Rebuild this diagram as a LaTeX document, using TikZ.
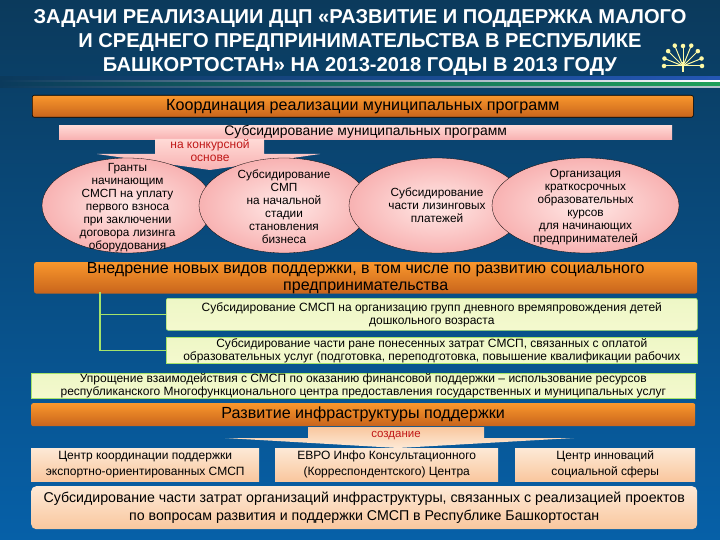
\documentclass[tikz,border=0pt]{standalone}
\usepackage{fontspec}
\setmainfont{Liberation Sans}
\usetikzlibrary{shapes.geometric}
\definecolor{bgtop}{HTML}{0B3A5C}
\definecolor{bgbottom}{HTML}{0660A8}
\definecolor{orangemid}{HTML}{F9972C}
\definecolor{orangedark}{HTML}{C8641C}
\definecolor{pinklight}{HTML}{FFDAD6}
\definecolor{pinkdeep}{HTML}{F8B2B2}
\definecolor{greenbar}{HTML}{A6E36A}
\definecolor{greenpale}{HTML}{F4F9CE}
\definecolor{peachlight}{HTML}{FDE9D6}
\definecolor{peachdeep}{HTML}{F9C79E}
\definecolor{redtext}{HTML}{C01818}
\definecolor{stripeblue}{HTML}{2456B4}
\definecolor{stripegreen}{HTML}{1FA05A}
\tikzset{
	orangebox/.style={rounded corners=2pt,top color=orangemid,bottom color=orangedark,align=center,inner sep=0pt,anchor=north west},
	pinkbar/.style={top color=pinklight,bottom color=pinkdeep,align=center,inner sep=0pt,anchor=north west},
	greenbox/.style={rounded corners=2pt,draw=greenbar,line width=.6pt,top color=greenpale!92!greenbar,bottom color=greenpale,align=center,inner sep=0pt,anchor=north west},
	peachbox/.style={top color=peachlight,bottom color=peachdeep,align=center,inner sep=0pt,anchor=north west},
	oval/.style={ellipse,inner sep=0pt,draw=black,line width=.3pt,inner color=pinklight!60!white,outer color=pinkdeep},
	ovaltext/.style={font=\fontsize{11.8}{13}\selectfont},
	stripeband/.style={left color=bgtop,middle color=#1,right color=#1}
}
\begin{document}
\begin{tikzpicture}[x=1pt,y=-1pt]
	\tikzstyle{every node} = [align=center]
	\fill[top color=bgtop,bottom color=bgbottom] (0,0) rectangle (720,540);
	\useasboundingbox (0,0) rectangle (720,540);

	% stripe under the title
	\shade[stripeband=stripeblue] (0,77) rectangle (720,81);
	\shade[stripeband=white] (0,81) rectangle (720,83);
	\shade[stripeband=stripegreen] (0,83) rectangle (720,87);
	\shade[stripeband=white!70!bgtop] (0,87) rectangle (720,88);

	\node (title) at (360,42) [text=white,font=\bfseries\fontsize{20.1}{24}\selectfont] {ЗАДАЧИ РЕАЛИЗАЦИИ ДЦП «РАЗВИТИЕ И ПОДДЕРЖКА МАЛОГО \\ И СРЕДНЕГО ПРЕДПРИНИМАТЕЛЬСТВА В РЕСПУБЛИКЕ \\ БАШКОРТОСТАН» НА 2013-2018 ГОДЫ В 2013 ГОДУ};

	% logo
	\foreach \ang/\len in {-90/20,-68/22,-45/21,-22/20,-158/20,-112/22,-135/21,0/19,180/19} {
		\draw[yellow!35!white,line width=1pt] (683,66) -- ++(\ang:\len) node[circle,fill=yellow!35!white,inner sep=1.6pt] {};
	}
	\draw[yellow!35!white,line width=1.2pt] (683,62) -- (683,72);

	\node (coord) at (32,95) [orangebox,draw=black,line width=.6pt,minimum width=661pt,minimum height=22pt,font=\fontsize{16.1}{17}\selectfont] {Координация реализации муниципальных программ};
	\node (subsbar) at (59,125) [pinkbar,minimum width=613pt,minimum height=14pt,font=\fontsize{13.9}{15}\selectfont] {Субсидирование муниципальных программ};

	\shade[top color=pinklight,bottom color=pinkdeep] (155,139) -- (264,139) -- (264,154) -- (320,154) -- (210,170) -- (97,154) -- (155,154) -- cycle;

	\node (grant) at (127.5,205.5) [oval,minimum width=171pt,minimum height=95pt,label={[ovaltext,yshift=-2pt]center:{Гранты \\ начинающим \\ СМСП на уплату \\ первого взноса \\ при заключении \\ договора лизинга \\ оборудования}}] {};
	\node (smp) at (284,205.5) [oval,minimum width=170pt,minimum height=95pt,label={[ovaltext,yshift=-1pt]center:{Субсидирование \\ СМП \\ на начальной \\ стадии \\ становления \\ бизнеса}}] {};
	\node (lizing) at (437,205.5) [oval,minimum width=176pt,minimum height=95pt,label={[ovaltext]center:{Субсидирование \\ части лизинговых \\ платежей}}] {};
	\node (kursy) at (585.5,205.5) [oval,minimum width=187pt,minimum height=95pt,label={[ovaltext,yshift=-1.5pt]center:{Организация \\ краткосрочных \\ образовательных \\ курсов \\ для начинающих \\ предпринимателей}}] {};

	\node (konk) at (210,151) [text=redtext,font=\fontsize{12}{13}\selectfont] {на конкурсной \\ основе};

	\node (vnedr) at (34,262) [orangebox,minimum width=663pt,minimum height=30pt,font=\fontsize{16}{17}\selectfont] {Внедрение новых видов поддержки, в том числе по развитию социального \\ предпринимательства};

	\node (gruppy) at (166,298) [greenbox,minimum width=531pt,minimum height=32pt,font=\fontsize{12}{13}\selectfont] {Субсидирование СМСП на организацию групп дневного времяпровождения детей \\ дошкольного возраста};
	\node (obraz) at (166,337) [greenbox,rounded corners=0pt,minimum width=531pt,minimum height=26pt,font=\fontsize{12}{13}\selectfont] {Субсидирование части ране понесенных затрат СМСП, связанных с оплатой \\ образовательных услуг (подготовка, переподготовка, повышение квалификации рабочих};

	\coordinate (trunk) at (100,292);
	\draw[greenbar,line width=1.3pt] (trunk) |- (gruppy.west);
	\draw[greenbar,line width=1.3pt] (trunk) |- (obraz.west);

	\node (uprosh) at (31,373) [greenbox,rounded corners=0pt,minimum width=664pt,minimum height=25pt,font=\fontsize{12}{13}\selectfont] {Упрощение взаимодействия с СМСП по оказанию финансовой поддержки – использование ресурсов \\ республиканского Многофункционального центра предоставления государственных и муниципальных услуг};

	\node (razv) at (31,403) [orangebox,minimum width=664pt,minimum height=23pt,font=\fontsize{16.1}{17}\selectfont] {Развитие инфраструктуры поддержки};

	\shade[top color=peachdeep,bottom color=peachlight] (308,427) -- (484,427) -- (484,438) -- (574,438) -- (398,448) -- (225,438) -- (308,438) -- cycle;
	\node (sozd) at (396,436) [text=redtext,font=\fontsize{11.5}{13}\selectfont] {создание};

	\node (centr) at (31,448) [peachbox,minimum width=228pt,minimum height=33pt,font=\fontsize{12}{16}\selectfont] {Центр координации поддержки \\ экспортно-ориентированных СМСП};
	\node (evro) at (275,448) [peachbox,minimum width=223pt,minimum height=33pt,font=\fontsize{12}{16}\selectfont] {ЕВРО Инфо Консультационного \\ (Корреспондентского) Центра};
	\node (innov) at (515,448) [peachbox,minimum width=180pt,minimum height=33pt,font=\fontsize{12}{16}\selectfont] {Центр инноваций \\ социальной сферы};

	\node (infra) at (31,486) [peachbox,rounded corners=5pt,minimum width=666pt,minimum height=43pt,font=\fontsize{14.2}{18}\selectfont] {Субсидирование части затрат организаций инфраструктуры, связанных с реализацией проектов \\ по вопросам развития и поддержки СМСП в Республике Башкортостан};
\end{tikzpicture}
\end{document}
